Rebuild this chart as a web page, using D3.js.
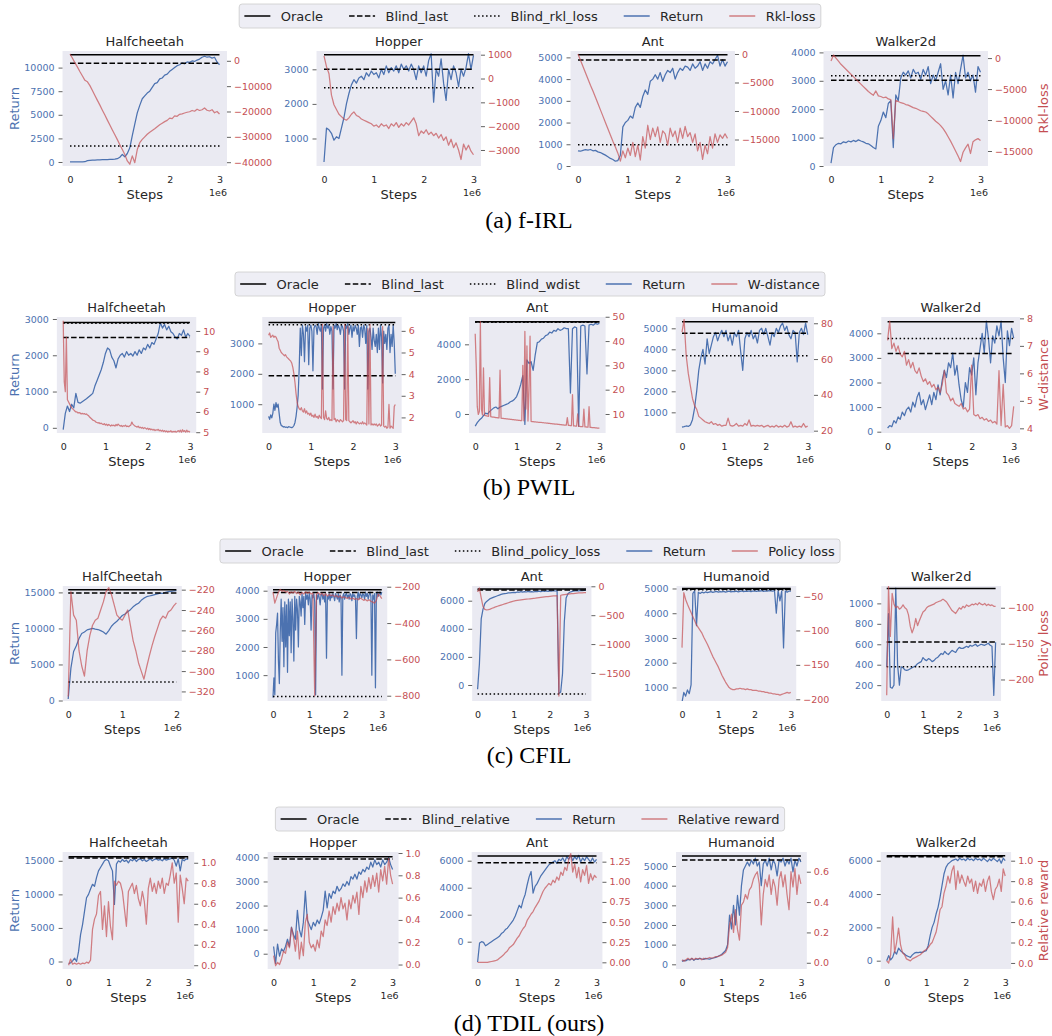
<!DOCTYPE html>
<html>
<head>
<meta charset="utf-8">
<script src="https://cdnjs.cloudflare.com/ajax/libs/d3/7.8.5/d3.min.js"></script>
<style>
  body { margin: 0; background: #fff; }
  svg { display: block; }
</style>
</head>
<body>
<svg id="fig" width="1052" height="1036"></svg>
<script>
// ---- labels ----
const firlEnvs = ['Halfcheetah', 'Hopper', 'Ant', 'Walker2d'];
const pwilEnvs = ['Halfcheetah', 'Hopper', 'Ant', 'Humanoid', 'Walker2d'];
const cfilEnvs = ['HalfCheetah', 'Hopper', 'Ant', 'Humanoid', 'Walker2d'];
const tdilEnvs = ['Halfcheetah', 'Hopper', 'Ant', 'Humanoid', 'Walker2d'];

const firlLegend = ['Oracle', 'Blind_last', 'Blind_rkl_loss', 'Return', 'Rkl-loss'];
const pwilLegend = ['Oracle', 'Blind_last', 'Blind_wdist', 'Return', 'W-distance'];
const cfilLegend = ['Oracle', 'Blind_last', 'Blind_policy_loss', 'Return', 'Policy loss'];
const tdilLegend = ['Oracle', 'Blind_relative', 'Return', 'Relative reward'];
const legendKinds4 = ['oracle', 'blind', 'blindLoss', 'return', 'loss'];
const legendKinds3 = ['oracle', 'blind', 'return', 'loss'];

const captions = ['(a) f-IRL', '(b) PWIL', '(c) CFIL', '(d) TDIL (ours)'];

// ---- baselines: [oracle, blind, blindLoss] in return units ----
const firlBaselines = [[11366, 10466, 1700], [3422, 3000, 2465], [5124, 4876, 975], [3880, 3020, 3175]];
const pwilBaselines = [[2906, 2487, 2880], [3690, 1934, 3612], [5299, 5290, 5264], [5317, 4762, 3695], [4470, 3180, 3790]];
const cfilBaselines = [[15375, 14900, 2560], [4035, 3940, 240], [6833, 6760, -640], [5000, 4970, 4950], [1146, 623, 380]];
const tdilBaselines = [[15596, 15400], [4025, 3930], [6350, 5850], [5508, 5305], [6300, 6240]];

// ---- series (evenly spaced over the step range, in 1e6 steps) ----
const firlHalfcheetahReturn = [0, 10, 5, 15, 10, 20, 30, 150, 180, 200,
  210, 220, 230, 240, 250, 260, 270, 280, 300, 350,
  500, 800, 550, 900, 1500, 2800, 4000, 5200, 6000, 6700,
  7000, 7300, 7500, 7900, 8300, 8400, 8800, 8900, 9200, 9300,
  9600, 9800, 10000, 10200, 10300, 10500, 10400, 10600, 10550, 10700,
  10650, 10800, 10900, 11100, 11200, 11100, 11150, 11000, 11100, 10600,
  10300];
const firlHalfcheetahLoss = [2700, 1000, -800, -2500, -4300, -6000, -7700, -8300, -9800, -11700,
  -13700, -15600, -17500, -19500, -21400, -23400, -25300, -27300, -29200, -31100,
  -33100, -35000, -37000, -39500, -40800, -37500, -40200, -35000, -32300, -31000,
  -30000, -29000, -28200, -27500, -26800, -26000, -25200, -24600, -24000, -23500,
  -22600, -22800, -21700, -21900, -21100, -20900, -20600, -20300, -20100, -19600,
  -19900, -19100, -19600, -19300, -18600, -19500, -19800, -19300, -20500, -20000,
  -21000];
const firlHopperReturn = [320, 1300, 1250, 1150, 950, 1050, 1000, 1300, 1600, 2000,
  2300, 2550, 2700, 2600, 2750, 2800, 2700, 2900, 2800, 2950,
  2850, 2900, 2750, 3000, 2850, 3100, 2900, 3050, 2950, 3100,
  2900, 3150, 3000, 3100, 2950, 3150, 3000, 2700, 3100, 2900,
  3100, 2800, 3250, 3450, 2050, 3000, 2800, 3300, 2600, 2100,
  3000, 2700, 3100, 2900, 2500, 3000, 2800, 3050, 3450, 3000,
  3400];
const firlHopperLoss = [950, 500, 200, -700, -1100, -1300, -1500, -1600, -1700, -1750,
  -1650, -1500, -1400, -1550, -1600, -1700, -1750, -1800, -1850, -1900,
  -2000, -1950, -2050, -1900, -2000, -1950, -2100, -1900, -2000, -1850,
  -2050, -1900, -2000, -1850, -1950, -1800, -1650, -1900, -2400, -2200,
  -2300, -2150, -2350, -2250, -2400, -2300, -2500, -2350, -2600, -2450,
  -2800, -2550, -2900, -2700, -3000, -3400, -2750, -3000, -2800, -3050,
  -3200];
const firlAntReturn = [700, 680, 720, 750, 730, 760, 700, 720, 650, 620,
  560, 500, 430, 350, 300, 220, 250, 500, 1800, 2000,
  2100, 2300, 2200, 2700, 2900, 2700, 3200, 3500, 3300, 3900,
  4000, 4200, 4000, 4300, 3900, 4200, 4400, 4300, 4500, 4000,
  4300, 4500, 4400, 4600, 4550, 4400, 4700, 4500, 4600, 4800,
  4400, 4700, 4500, 4800, 4700, 4900, 5100, 4600, 4900, 4600,
  4800];
const firlAntLoss = [0, -1100, -2200, -3300, -4400, -5500, -6500, -7600, -8700, -9800,
  -10900, -12000, -13100, -14200, -15300, -16300, -17400, -18800, -17000, -18200,
  -16500, -17800, -15500, -18000, -16000, -18600, -14500, -16500, -12500, -15000,
  -13000, -14500, -12800, -15500, -13500, -14000, -16000, -13000, -14500, -13500,
  -15500, -13000, -14800, -12700, -14500, -13800, -15500, -14000, -17000, -15500,
  -18500, -16000, -17500, -14500, -16500, -14000, -15500, -14200, -14800, -14000,
  -14800];
const firlWalkerReturn = [100, 650, 750, 800, 780, 850, 820, 880, 850, 900,
  860, 920, 880, 850, 800, 780, 720, 650, 600, 1400,
  1600, 1900, 1700, 2200, 2300, 650, 2500, 2300, 3100, 3300,
  3200, 3350, 3100, 3400, 3250, 3300, 3050, 3400, 3200, 3500,
  2900, 3200, 3000, 3300, 3600, 2700, 3000, 2500, 3200, 2400,
  3300, 2900, 3400, 3900, 3100, 3300, 3000, 3200, 2600, 3500,
  3300];
const firlWalkerLoss = [-470, 500, 0, -500, -1000, -1400, -1800, -2200, -2600, -3000,
  -3400, -3800, -4200, -4600, -5000, -5400, -5700, -6000, -5300, -6100,
  -6200, -6400, -6300, -6600, -6700, -13000, -6800, -7000, -7200, -7300,
  -7500, -7600, -7800, -8000, -8100, -8300, -8500, -8600, -8700, -9000,
  -9400, -9800, -10200, -10500, -10900, -11400, -12000, -12700, -13400, -14200,
  -15000, -15800, -16700, -15200, -14500, -13900, -15400, -13500, -13200, -13000,
  -13300];

const pwilHalfcheetahReturn = [-50, 400, 600, 450, 650, 550, 950, 700, 680, 720,
  760, 800, 850, 900, 950, 1150, 1300, 1450, 1600, 1800,
  2050, 2200, 2150, 1950, 1850, 1650, 1900, 2000, 2050, 1950,
  2100, 2000, 2050, 1980, 2100, 2000, 2150, 2050, 2200, 2150,
  2300, 2200, 2350, 2300, 2450, 2600, 2900, 2750, 2850, 2700,
  2800, 2650, 2600, 2500, 2450, 2600, 2550, 2700, 2500, 2600,
  2520];
const pwilHalfcheetahLoss = [10.5, 7.5, 7.0, 9.7, 6.6, 6.5, 6.4, 6.3, 6.2, 6.15,
  6.1, 6.05, 6.0, 6.0, 5.95, 5.97, 5.95, 5.9, 5.93, 5.9,
  5.92, 5.88, 5.9, 5.85, 5.82, 5.75, 5.7, 5.65, 5.6, 5.58,
  5.55, 5.5, 5.48, 5.45, 5.47, 5.42, 5.45, 5.4, 5.38, 5.42,
  5.35, 5.4, 5.33, 5.38, 5.35, 5.3, 5.36, 5.32, 5.35, 5.3,
  5.38, 5.32, 5.4, 5.35, 5.3, 5.33, 5.28, 5.32, 5.3, 5.35,
  5.28, 5.3, 5.27, 5.32, 5.35, 5.5, 5.4, 5.35, 5.3, 5.28,
  5.25, 5.3, 5.22, 5.25, 5.2, 5.24, 5.18, 5.22, 5.2, 5.15,
  5.2, 5.13, 5.18, 5.12, 5.15, 5.1, 5.14, 5.08, 5.12, 5.1,
  5.14, 5.07, 5.1, 5.05, 5.1, 5.03, 5.08, 5.02, 5.06, 5.0,
  5.05, 5.02, 5.07, 5.0, 5.04, 5.01, 5.05, 5.0, 5.03, 5.08,
  5.02, 5.1, 5.0, 5.12, 5.03, 5.08, 5.0, 5.1, 5.02, 5.05,
  5.0];
const pwilHopperReturn = [600, 500, 650, 550, 700, 1000, 800, 1050, 900, 1000,
  700, 400, 300, 280, 250, 260, 240, 250, 230, 260,
  250, 240, 230, 250, 300, 400, 600, 900, 1300, 2200,
  3500, 2600, 3600, 3300, 2400, 3550, 3400, 3600, 2300, 3500,
  3600, 3400, 2100, 3500, 3600, 3550, 3300, 3650, 3500, 3400,
  3600, 1500, 3500, 3600, 3400, 3650, 3500, 3600, 3300, 3550,
  3400, 1500, 3600, 3500, 3650, 3450, 3600, 3500, 3300, 3600,
  3550, 3400, 1500, 3600, 3500, 3650, 3300, 3500, 3600, 3200,
  3550, 3400, 3600, 3500, 3300, 3600, 2900, 3500, 3550, 3200,
  3600, 3500, 3000, 3600, 1500, 3400, 3500, 3200, 2800, 3500,
  3100, 2900, 3300, 2700, 3500, 2800, 3600, 3200, 1700, 3400,
  3000, 3300, 2800, 3500, 3600, 2700, 3300, 2900, 3600, 3000,
  2000];
const pwilHopperLoss = [5.8, 5.9, 5.7, 5.75, 5.8, 5.7, 5.75, 5.72, 5.6, 5.5,
  5.2, 5.1, 5.0, 4.95, 4.9, 4.85, 4.9, 4.8, 4.75, 4.7,
  4.65, 4.6, 4.5, 4.3, 4.0, 3.6, 3.1, 2.7, 2.5, 2.4,
  2.35, 2.45, 2.3, 2.25, 2.4, 2.2, 2.3, 2.15, 2.2, 2.1,
  2.2, 2.05, 2.1, 2.0, 2.15, 2.0, 2.05, 1.95, 2.1, 2.0,
  1.95, 6.3, 2.0, 1.9, 2.3, 1.95, 1.9, 2.0, 1.85, 1.9,
  1.85, 6.2, 1.9, 1.95, 1.8, 1.9, 1.85, 1.8, 1.9, 1.85,
  1.8, 1.85, 6.3, 1.9, 1.85, 6.2, 1.85, 1.8, 1.75, 1.8,
  1.85, 1.75, 1.8, 1.7, 1.8, 1.75, 1.7, 1.75, 1.7, 1.8,
  1.7, 1.75, 1.7, 1.65, 6.1, 1.7, 6.3, 1.65, 1.7, 1.65,
  1.7, 1.65, 1.7, 1.6, 1.65, 1.7, 1.6, 1.65, 6.2, 1.6,
  1.55, 1.6, 1.5, 1.55, 2.6, 1.5, 1.6, 1.55, 1.5, 2.5,
  2.6];
const pwilAntReturn = [-700, -500, -350, -250, -100, 50, 0, 150, 250, 350,
  400, 300, 400, 450, 500, 550, 600, 700, 750, 850,
  1000, 1300, 1700, 2200, -600, 3100, 2900, 3000, 2500, 3400,
  4100, 4150, 4300, 4350, 4500, 4550, 4700, 4650, 4800, 4750,
  4900, 4800, 4850, 4950, 4900, 4900, 1200, 4900, 5000, 4950,
  -700, 5050, 5100, 5050, 2300, 5100, 5150, 5100, 5200, 5150,
  5200];
const pwilAntLoss = [43, 30, 13, 9.8, 11, 48, 12, 9.6, 29, 9.4,
  9.3, 9.2, 9.1, 9.0, 25, 8.9, 8.8, 8.7, 8.7, 8.6,
  8.5, 8.5, 8.4, 8.4, 28, 8.3, 8.2, 8.2, 8.1, 8.1,
  8.0, 8.0, 7.9, 7.9, 7.8, 7.8, 7.7, 7.7, 7.6, 7.6,
  7.5, 7.5, 7.4, 7.4, 7.3, 7.3, 30, 7.2, 44, 12,
  38, 7.1, 20, 42, 7.0, 6.9, 6.9, 6.8, 6.8, 6.7,
  6.7, 6.6, 6.6, 6.5, 6.5, 6.4, 6.4, 6.3, 6.3, 6.2,
  6.2, 6.1, 6.1, 6.0, 6.0, 5.9, 5.9, 5.8, 5.8, 5.8,
  5.7, 5.7, 5.6, 5.6, 5.5, 5.5, 5.4, 5.4, 5.4, 8.5,
  5.3, 5.3, 5.2, 5.2, 18, 5.1, 5.1, 5.0, 5.0, 10,
  4.9, 4.9, 4.8, 4.8, 4.8, 12, 4.7, 4.7, 4.6, 4.6,
  13, 4.5, 4.5, 4.4, 4.4, 4.4, 4.3, 4.3, 4.2, 4.2,
  4.2];
const pwilHumanoidReturn = [300, 320, 350, 330, 400, 650, 1200, 2000, 3000, 3600,
  4000, 3300, 4500, 3800, 4200, 4600, 4800, 4400, 4700, 4900,
  4600, 4900, 4400, 4700, 4200, 4800, 4600, 4900, 3900, 3000,
  4500, 4800, 4600, 4900, 4500, 4700, 4300, 4900, 5000, 4700,
  5000, 4600, 4200, 4800, 4600, 5000, 4800, 5100, 5250, 4900,
  5100, 4700, 4500, 4900, 4800, 3400, 4800, 5000, 4700, 5250,
  4700];
const pwilHumanoidLoss = [75, 82, 62, 52, 45, 38, 34, 32, 28, 27,
  26, 25, 24.5, 24, 25, 23.5, 24, 23, 23.5, 22.5,
  23, 23, 27, 23, 22.5, 23, 24, 22.5, 23, 22.5,
  24, 23, 26, 22.5, 23, 22.5, 23, 22.5, 23, 22,
  22.5, 23, 22, 22.5, 22, 23, 22, 22.5, 22, 23,
  22, 22.5, 25, 22, 22.5, 22, 22.5, 22, 24, 22,
  22.5];
const pwilWalkerReturn = [150, 250, 200, 450, 350, 600, 500, 800, 650, 900,
  1000, 800, 1200, 1000, 1400, 1600, 1100, 1300, 900, 1200,
  1500, 1100, 1600, 1300, 1900, 1500, 2100, 2500, 2200, 2800,
  2600, 3200, 2300, 2700, 1900, 1300, 1000, 2000, 1600, 2600,
  2300, 3000, 1500, 2800, 3400, 4000, 3200, 4500, 3800, 2800,
  3900, 3600, 4300, 3900, 4500, 3000, 2000, 4100, 3500, 4200,
  3800];
const pwilWalkerLoss = [7.2, 7.9, 6.9, 7.1, 6.8, 7.0, 6.7, 6.6, 6.8, 6.3,
  6.5, 6.2, 6.4, 6.1, 6.0, 6.2, 5.9, 5.7, 5.8, 5.6,
  5.7, 5.5, 5.6, 5.4, 5.5, 5.3, 5.6, 6.1, 5.3, 5.2,
  5.0, 5.1, 4.9, 4.85, 4.8, 4.9, 4.7, 4.75, 4.6, 4.7,
  6.3, 4.5, 4.45, 4.5, 4.35, 4.4, 4.3, 4.35, 4.25, 4.3,
  4.2, 4.25, 4.15, 6.1, 4.1, 5.6, 4.05, 4.1, 4.0, 4.1,
  4.8];

const cfilHalfcheetahReturn = [200, 4500, 6800, 7600, 8600, 9300, 9500, 9800, 9900, 10000,
  9900, 9850, 9700, 9500, 9200, 9700, 10300, 10700, 11000, 11400,
  11800, 12000, 12300, 12600, 13000, 13300, 13500, 13900, 14200, 14400,
  14500, 14600, 14700, 14800, 14900, 14850, 15000, 15100, 15150, 15200,
  15250];
const cfilHalfcheetahLoss = [-325, -222, -245, -250, -280, -295, -305, -280, -265, -255,
  -250, -248, -240, -232, -222, -218, -225, -235, -245, -248,
  -250, -245, -240, -255, -270, -280, -292, -300, -308, -296,
  -285, -275, -266, -258, -250, -246, -248, -242, -240, -236,
  -233];
const cfilHopperReturn = [200, 900, 300, 2500, 2800, 3200, 1500, 700, 2500, 3700,
  2200, 3400, 1300, 3600, 2000, 3500, 1100, 3700, 2400, 3600,
  1800, 3700, 3000, 1500, 3800, 2600, 3700, 3300, 2000, 3800,
  3600, 3100, 3900, 3400, 3800, 2800, 3900, 3700, 3850, 3500,
  3900, 3700, 2600, 3850, 3750, 3900, 3600, 300, 3850, 3700,
  3900, 3750, 3500, 3850, 3900, 3700, 3850, 3600, 3900, 1600,
  3800, 3700, 3900, 3650, 3850, 3750, 3900, 3800, 3650, 3900,
  3800, 3700, 3900, 3600, 3850, 3750, 1000, 3800, 3900, 3700,
  3850, 3900, 3750, 3850, 3700, 3900, 3850, 3650, 3900, 3800,
  3850, 3700, 2300, 3800, 3950, 3700, 3900, 3850, 3750, 3900,
  3850, 3700, 3950, 3800, 3900, 3700, 3850, 3950, 3800, 1000,
  3850, 3700, 3900, 550, 3900, 3950, 3800, 3900, 3950, 3850,
  3950];
const cfilHopperLoss = [-230, -290, -260, -230, -215, -225, -220, -230, -225, -240,
  -228, -235, -225, -238, -230, -245, -232, -240, -228, -236,
  -230, -240, -235, -800, -240, -232, -245, -235, -250, -238,
  -252, -242, -250, -245, -255, -248, -258, -250, -262, -255,
  -260, -265, -258, -268, -262, -270, -265, -272, -262, -268,
  -275, -270, -278, -272, -280, -285, -290, -275, -240, -250,
  -265];
const cfilAntReturn = [-300, 1500, 4700, 5400, 5800, 5950, 6050, 6150, 6200, 6250,
  6300, 6350, 6400, 6450, 6480, 6500, 6520, 6550, 6560, 6580,
  6600, 6580, 6620, 6600, 6640, 6610, 6650, 6620, 6660, 6630,
  6650, 6620, 6660, 6640, 6680, 6650, 6690, 6660, 6700, 6670,
  6700, 6680, 6710, 6690, 6720, -600, -500, 800, 4500, 6200,
  6500, 6600, 6650, 6680, 6700, 6720, 6700, 6730, 6720, 6740,
  6750];
const cfilAntLoss = [-100, -30, -200, -350, -400, -410, -405, -395, -380, -370,
  -355, -345, -335, -325, -315, -305, -295, -285, -275, -265,
  -255, -250, -245, -240, -236, -232, -228, -224, -220, -216,
  -212, -208, -205, -200, -196, -192, -188, -184, -180, -177,
  -174, -171, -168, -165, -162, -1900, -155, -150, -145, -140,
  -136, -132, -128, -125, -122, -119, -116, -114, -112, -110,
  -108];
const cfilHumanoidReturn = [400, 800, 650, 900, 750, 1100, 4800, 4900, 3500, 4850,
  4800, 4850, 4820, 4860, 4830, 4850, 4870, 4840, 4860, 4880,
  4850, 4870, 4860, 4880, 4850, 4870, 4890, 4860, 4880, 4870,
  4890, 4860, 4880, 4900, 4870, 4890, 4880, 4900, 4870, 4890,
  4900, 4880, 4900, 4890, 4910, 4880, 4900, 4890, 4910, 4900,
  4890, 4910, 4000, 4920, 4500, 4900, 2600, 4900, 4850, 4900,
  4880];
const cfilHumanoidLoss = [-125, -45, -55, -62, -68, -74, -80, -86, -92, -96,
  -100, -104, -110, -115, -120, -126, -132, -138, -143, -148,
  -153, -159, -165, -170, -175, -179, -183, -185, -186, -186,
  -185, -185, -184, -185, -185, -186, -185, -186, -186, -187,
  -187, -187, -188, -188, -189, -189, -190, -190, -191, -191,
  -192, -192, -193, -193, -194, -193, -192, -191, -190, -191,
  -190];
const cfilWalkerReturn = [380, 900, 180, 170, 200, 1150, 400, 200, 380, 370,
  350, 345, 350, 360, 370, 380, 390, 410, 420, 430,
  470, 450, 440, 460, 450, 430, 440, 460, 470, 490,
  510, 500, 530, 510, 500, 520, 540, 530, 520, 550,
  570, 560, 560, 570, 580, 570, 590, 580, 590, 600,
  580, 590, 600, 595, 590, 600, 610, 590, 580, 100,
  620];
const cfilWalkerLoss = [-222, -70, -140, -80, -95, -100, -98, -102, -100, -96,
  -100, -102, -110, -126, -135, -128, -115, -125, -118, -112,
  -106, -104, -100, -98, -97, -96, -95, -93, -92, -91,
  -90, -88, -90, -92, -96, -100, -104, -106, -108, -104,
  -100, -102, -98, -100, -96, -98, -97, -95, -96, -94,
  -96, -93, -95, -96, -94, -97, -95, -97, -96, -98,
  -98];

const tdilHalfcheetahReturn = [-300, -200, 100, 500, 0, 1500, 4000, 5500, 7500, 9500,
  10000, 10800, 11500, 11200, 12500, 13500, 14000, 14500, 15000, 15200,
  15000, 14200, 13500, 8500, 14500, 15000, 14800, 15200, 14900, 15100,
  14700, 15200, 15000, 15300, 14900, 15200, 15300, 15000, 15200, 14900,
  15100, 15300, 15000, 15200, 15300, 15100, 15200, 15000, 15300, 15100,
  15200, 15300, 15400, 15100, 14200, 15300, 13500, 15200, 15000, 15300,
  15200];
const tdilHalfcheetahLoss = [0.0, 0.06, 0.01, 0.02, 0.01, 0.02, 0.01, 0.02, 0.015, 0.03,
  0.02, 0.05, 0.35, 0.45, 0.5, 0.68, 0.72, 0.35, 0.58, 0.28,
  0.62, 0.38, 0.25, 0.82, 0.78, 0.82, 0.8, 0.72, 0.55, 0.38,
  0.72, 0.76, 0.8, 0.7, 0.78, 0.65, 0.58, 0.72, 0.62, 0.4,
  0.75, 0.85, 0.72, 0.8, 0.7, 0.82, 0.75, 0.85, 0.7, 0.8,
  0.78, 0.88, 1.0, 0.8, 0.9, 0.42, 0.88, 0.75, 0.6, 0.85,
  0.82];
const tdilHopperReturn = [300, -400, 400, -100, 200, 100, 300, 600, 300, 1100,
  800, 600, 1800, 1000, 700, 1300, 2600, 1400, 1200, 1000,
  1300, 1150, 1400, 1250, 1500, 1800, 2600, 1900, 2500, 2300,
  2600, 2500, 2800, 2600, 2700, 2900, 2800, 3000, 2850, 3200,
  3100, 3300, 3100, 3400, 3300, 3500, 3400, 3600, 3500, 3800,
  3600, 3900, 3700, 3800, 3600, 3900, 3700, 3800, 4000, 3700,
  3500];
const tdilHopperLoss = [0.08, -0.01, 0.02, 0.0, 0.05, 0.12, 0.1, 0.2, 0.15, 0.33,
  0.25, 0.12, 0.3, 0.05, 0.2, 0.08, 0.38, 0.45, 0.2, 0.15,
  0.18, 0.12, 0.22, 0.15, 0.3, 0.25, 0.4, 0.35, 0.48, 0.38,
  0.52, 0.45, 0.55, 0.48, 0.6, 0.5, 0.55, 0.4, 0.58, 0.5,
  0.62, 0.55, 0.65, 0.45, 0.7, 0.6, 0.75, 0.65, 0.78, 0.68,
  0.8, 0.7, 0.82, 0.65, 0.85, 0.75, 0.88, 0.72, 0.95, 0.8,
  0.72];
const tdilAntReturn = [-1500, -100, 0, -50, -300, -200, -100, 0, 100, 200,
  300, 400, 600, 700, 900, 1000, 1200, 1400, 1600, 1900,
  2300, 2700, 2500, 3100, 3500, 4200, 4800, 5200, 3600, 4100,
  4300, 4600, 4900, 5100, 5300, 5500, 5700, 5800, 5900, 6000,
  5800, 6100, 6000, 6200, 5900, 6300, 6100, 6400, 6000, 6300,
  6100, 6400, 5900, 6200, 6000, 6300, 6100, 5900, 6200, 5900,
  6100];
const tdilAntLoss = [0.0, 0.0, 0.0, 0.0, 0.0, 0.0, 0.005, 0.01, 0.015, 0.02,
  0.03, 0.05, 0.07, 0.09, 0.12, 0.14, 0.18, 0.2, 0.22, 0.26,
  0.3, 0.33, 0.38, 0.42, 0.45, 0.52, 0.56, 0.6, 0.63, 0.68,
  0.72, 0.76, 0.82, 0.88, 0.92, 0.95, 0.98, 0.96, 1.02, 0.99,
  1.06, 1.02, 1.12, 1.08, 1.18, 1.14, 1.28, 1.35, 1.12, 1.22,
  1.05, 1.18, 1.0, 1.15, 1.08, 1.2, 0.98, 1.1, 1.02, 1.08,
  1.05];
const tdilHumanoidReturn = [150, 200, 180, 250, 220, 300, 200, 280, 250, 300,
  270, 250, 300, 280, 260, 300, 320, 350, 400, 450,
  500, 600, 700, 1000, 2500, 1800, 3000, 2000, 3500, 2500,
  4000, 4800, 5000, 5200, 5000, 5300, 5100, 5400, 5000, 5200,
  4000, 5100, 5300, 5000, 5400, 4800, 5300, 5100, 4500, 5300,
  5200, 5400, 5000, 5300, 5100, 5400, 4700, 5300, 5000, 5400,
  5200];
const tdilHumanoidLoss = [0.02, 0.01, 0.02, 0.03, 0.02, 0.03, 0.02, 0.03, 0.025, 0.03,
  0.02, 0.03, 0.025, 0.03, 0.035, 0.03, 0.035, 0.04, 0.04, 0.045,
  0.05, 0.06, 0.07, 0.1, 0.25, 0.32, 0.2, 0.35, 0.22, 0.15,
  0.38, 0.4, 0.45, 0.42, 0.48, 0.5, 0.55, 0.58, 0.6, 0.52,
  0.25, 0.45, 0.55, 0.5, 0.58, 0.45, 0.55, 0.5, 0.38, 0.55,
  0.6, 0.5, 0.58, 0.45, 0.35, 0.6, 0.5, 0.62, 0.45, 0.58,
  0.52];
const tdilWalkerReturn = [0, 300, 50, 200, 550, 400, 750, 600, 500, 400,
  300, 250, 200, 350, 450, 500, 480, 520, 500, 550,
  600, 900, 1500, 2000, 2300, 2800, 3200, 3800, 4500, 5200,
  5600, 5800, 5900, 6000, 6050, 6100, 6000, 6150, 6050, 6100,
  6000, 6150, 6050, 6100, 6000, 6150, 6050, 6100, 6000, 6150,
  6050, 5950, 6100, 6000, 6150, 6050, 5950, 6100, 5850, 6150,
  6000];
const tdilWalkerLoss = [0.02, 0.0, 0.08, 0.45, 0.1, 0.2, 0.34, 0.18, 0.1, 0.08,
  0.04, 0.03, 0.02, 0.04, 0.05, 0.06, 0.07, 0.08, 0.1, 0.12,
  0.13, 0.15, 0.18, 0.2, 0.25, 0.3, 0.4, 0.52, 0.55, 0.68,
  0.75, 0.85, 0.78, 0.9, 0.95, 0.72, 0.9, 0.78, 0.86, 0.8,
  0.75, 0.85, 0.78, 0.82, 0.7, 0.8, 0.68, 0.78, 0.75, 0.82,
  0.7, 0.8, 0.85, 0.7, 0.62, 0.72, 0.75, 0.82, 0.7, 0.92,
  0.85];

// ---- layout ----
const FONT = 'DejaVu Sans, sans-serif';
const BLUE = '#4C72B0', RED = '#C44E52', INK = '#262626', PANEL_BG = '#EAEAF2';
const X3 = [0, 1, 2, 3];

const rows = [
  {
    top: 51, bottom: 166, legendTop: 4, lossLabel: 'Rkl-loss',
    legend: firlLegend, kinds: legendKinds4, caption: captions[0],
    panels: [
      {x0: 70, x1: 219.5, xmax: 3, left: [-424, 11758], lt: [0, 2500, 5000, 7500, 10000], right: [-41500, 3866], rt: [-40000, -30000, -20000, -10000, 0], ret: firlHalfcheetahReturn, loss: firlHalfcheetahLoss},
      {x0: 324, x1: 473.5, xmax: 3, left: [205, 3529], lt: [1000, 2000, 3000], right: [-3672, 1155], rt: [-3000, -2000, -1000, 0, 1000], ret: firlHopperReturn, loss: firlHopperLoss},
      {x0: 578, x1: 727.5, xmax: 3, left: [0, 5294], lt: [0, 1000, 2000, 3000, 4000, 5000], right: [-19649, 526], rt: [-15000, -10000, -5000, 0], ret: firlAntReturn, loss: firlAntLoss},
      {x0: 831, x1: 980.5, xmax: 3, left: [0, 4049], lt: [0, 1000, 2000, 3000, 4000], right: [-17419, 1145], rt: [-15000, -10000, -5000, 0], ret: firlWalkerReturn, loss: firlWalkerLoss}
    ].map((p, i) => Object.assign(p, {name: firlEnvs[i], base: firlBaselines[i], xt: X3, rf: 'd'}))
  },
  {
    top: 317, bottom: 433, legendTop: 272, lossLabel: 'W-distance',
    legend: pwilLegend, kinds: legendKinds4, caption: captions[1],
    panels: [
      {x0: 63.2, x1: 189.9, left: [-143, 3055], lt: [0, 1000, 2000, 3000], right: [4.96, 10.69], rt: [5, 6, 7, 8, 9, 10], ret: pwilHalfcheetahReturn, loss: pwilHalfcheetahLoss},
      {x0: 268.6, x1: 395.3, left: [53, 3868], lt: [1000, 2000, 3000], right: [1.28, 6.64], rt: [2, 3, 4, 5, 6], ret: pwilHopperReturn, loss: pwilHopperLoss},
      {x0: 475.2, x1: 599.4, left: [-1092, 5569], lt: [0, 2000, 4000], right: [2.18, 49.9], rt: [10, 20, 30, 40, 50], ret: pwilAntReturn, loss: pwilAntLoss},
      {x0: 682, x1: 807.7, left: [16, 5538], lt: [1000, 2000, 3000, 4000, 5000], right: [18.7, 83.5], rt: [20, 40, 60, 80], ret: pwilHumanoidReturn, loss: pwilHumanoidLoss},
      {x0: 887.6, x1: 1013.7, left: [-53, 4663], lt: [0, 1000, 2000, 3000, 4000], right: [3.83, 8.05], rt: [4, 5, 6, 7, 8], ret: pwilWalkerReturn, loss: pwilWalkerLoss}
    ].map((p, i) => Object.assign(p, {name: pwilEnvs[i], base: pwilBaselines[i], xmax: 3, xt: X3, rf: 'd'}))
  },
  {
    top: 586, bottom: 701, legendTop: 539, lossLabel: 'Policy loss',
    legend: cfilLegend, kinds: legendKinds4, caption: captions[2],
    panels: [
      {x0: 68.2, x1: 176.4, xmax: 2, xt: [0, 1, 2], left: [-69, 15888], lt: [0, 5000, 10000, 15000], right: [-329.4, -216.4], rt: [-320, -300, -280, -260, -240, -220], ret: cfilHalfcheetahReturn, loss: cfilHalfcheetahLoss},
      {x0: 273, x1: 381.8, xmax: 3, xt: X3, left: [81, 4167], lt: [1000, 2000, 3000, 4000], right: [-829, -196], rt: [-800, -600, -400, -200], ret: cfilHopperReturn, loss: cfilHopperLoss},
      {x0: 477.6, x1: 586, xmax: 3, xt: X3, left: [-1139, 7046], lt: [0, 2000, 4000, 6000], right: [-1985, 5], rt: [-1500, -1000, -500, 0], ret: cfilAntReturn, loss: cfilAntLoss},
      {x0: 682, x1: 790.8, xmax: 3, xt: X3, left: [453, 5100], lt: [1000, 2000, 3000, 4000, 5000], right: [-202.5, -35.5], rt: [-200, -150, -100, -50], ret: cfilHumanoidReturn, loss: cfilHumanoidLoss},
      {x0: 886.7, x1: 995.6, xmax: 3, xt: X3, left: [45, 1170], lt: [200, 400, 600, 800, 1000], right: [-230, -69.7], rt: [-200, -150, -100], ret: cfilWalkerReturn, loss: cfilWalkerLoss}
    ].map((p, i) => Object.assign(p, {name: cfilEnvs[i], base: cfilBaselines[i], rf: 'd'}))
  },
  {
    top: 852, bottom: 969, legendTop: 807, lossLabel: 'Relative reward',
    legend: tdilLegend, kinds: legendKinds3, caption: captions[3],
    panels: [
      {x0: 68.6, x1: 188.2, left: [-1117, 16311], lt: [0, 5000, 10000, 15000], right: [-0.037, 1.105], rt: [0, 0.2, 0.4, 0.6, 0.8, 1.0], rf: '.1f', ret: tdilHalfcheetahReturn, loss: tdilHalfcheetahLoss},
      {x0: 273.6, x1: 392.6, left: [-635, 4224], lt: [0, 1000, 2000, 3000, 4000], right: [-0.04, 1.009], rt: [0, 0.2, 0.4, 0.6, 0.8, 1.0], rf: '.1f', ret: tdilHopperReturn, loss: tdilHopperLoss},
      {x0: 477.6, x1: 596.5, left: [-2022, 6644], lt: [0, 2000, 4000, 6000], right: [-0.083, 1.37], rt: [0, 0.25, 0.5, 0.75, 1.0, 1.25], rf: '.2f', ret: tdilAntReturn, loss: tdilAntLoss},
      {x0: 682, x1: 800.9, left: [-239, 5712], lt: [0, 1000, 2000, 3000, 4000, 5000], right: [-0.041, 0.73], rt: [0, 0.2, 0.4, 0.6], rf: '.1f', ret: tdilHumanoidReturn, loss: tdilHumanoidLoss},
      {x0: 886.7, x1: 1005.2, left: [-498, 6522], lt: [0, 2000, 4000, 6000], right: [-0.059, 1.085], rt: [0, 0.2, 0.4, 0.6, 0.8, 1.0], rf: '.1f', ret: tdilWalkerReturn, loss: tdilWalkerLoss}
    ].map((p, i) => Object.assign(p, {name: tdilEnvs[i], base: tdilBaselines[i], xmax: 3, xt: X3}))
  }
];

const svg = d3.select('#fig');
const lineStyles = {
  oracle: {stroke: '#000', dash: null, width: 1.5, opacity: 1},
  blind: {stroke: '#000', dash: '5.5,2.4', width: 1.5, opacity: 1},
  blindLoss: {stroke: '#000', dash: '1.5,2.5', width: 1.5, opacity: 1},
  return: {stroke: BLUE, dash: null, width: 1.5, opacity: 1},
  loss: {stroke: RED, dash: null, width: 1.5, opacity: 0.7}
};

function series(values, xmax) {
  const n = values.length;
  return values.map((v, i) => [i / (n - 1) * xmax, v]);
}

function styleAxis(g, color) {
  g.attr('font-family', FONT).attr('font-size', 9.5);
  g.select('.domain').remove();
  g.selectAll('.tick line').attr('stroke', '#3a3a3a').attr('stroke-width', 0.8);
  g.selectAll('.tick text').attr('fill', color);
}

let clipCount = 0;
function drawPanel(row, p, first, last) {
  const m = (p.x1 - p.x0) * 0.05;
  const left = p.x0 - m, right = p.x1 + m;
  const x = d3.scaleLinear().domain([0, p.xmax]).range([p.x0, p.x1]);
  const yL = d3.scaleLinear().domain(p.left).range([row.bottom, row.top]);
  const yR = d3.scaleLinear().domain(p.right).range([row.bottom, row.top]);
  const g = svg.append('g');

  g.append('rect')
    .attr('x', left).attr('y', row.top)
    .attr('width', right - left).attr('height', row.bottom - row.top)
    .attr('fill', PANEL_BG);

  const id = 'clip' + (clipCount++);
  g.append('clipPath').attr('id', id).append('rect')
    .attr('x', left).attr('y', row.top)
    .attr('width', right - left).attr('height', row.bottom - row.top);
  const plot = g.append('g').attr('clip-path', `url(#${id})`);

  plot.append('path')
    .datum(series(p.ret, p.xmax))
    .attr('d', d3.line().x(d => x(d[0])).y(d => yL(d[1])))
    .attr('fill', 'none').attr('stroke', BLUE)
    .attr('stroke-width', 1.25).attr('stroke-linejoin', 'round');

  const baseKinds = ['oracle', 'blind', 'blindLoss'];
  p.base.forEach((v, i) => {
    const s = lineStyles[baseKinds[i]];
    plot.append('line')
      .attr('x1', x(0)).attr('x2', x(p.xmax))
      .attr('y1', yL(v)).attr('y2', yL(v))
      .attr('stroke', s.stroke).attr('stroke-width', s.width)
      .attr('stroke-dasharray', s.dash);
  });

  plot.append('path')
    .datum(series(p.loss, p.xmax))
    .attr('d', d3.line().x(d => x(d[0])).y(d => yR(d[1])))
    .attr('fill', 'none').attr('stroke', RED).attr('stroke-opacity', 0.7)
    .attr('stroke-width', 1.25).attr('stroke-linejoin', 'round');

  g.append('g')
    .attr('transform', `translate(${left},0)`)
    .call(d3.axisLeft(yL).tickValues(p.lt).tickFormat(d3.format('d')).tickSize(4).tickPadding(4))
    .call(styleAxis, BLUE);

  g.append('g')
    .attr('transform', `translate(${right},0)`)
    .call(d3.axisRight(yR).tickValues(p.rt).tickFormat(d3.format(p.rf)).tickSize(4).tickPadding(3))
    .call(styleAxis, RED);

  g.append('g')
    .attr('transform', `translate(0,${row.bottom})`)
    .call(d3.axisBottom(x).tickValues(p.xt).tickFormat(d3.format('d')).tickSize(0).tickPadding(10))
    .call(styleAxis, INK);

  const cx = (left + right) / 2;
  g.append('text').attr('x', cx).attr('y', row.top - 5.4)
    .attr('text-anchor', 'middle').attr('font-family', FONT).attr('font-size', 13)
    .attr('fill', INK).text(p.name);
  g.append('text').attr('x', cx).attr('y', row.bottom + 32.5)
    .attr('text-anchor', 'middle').attr('font-family', FONT).attr('font-size', 13)
    .attr('fill', INK).text('Steps');
  g.append('text').attr('x', right).attr('y', row.bottom + 29.5)
    .attr('text-anchor', 'end').attr('font-family', FONT).attr('font-size', 9.5)
    .attr('fill', INK).text('1e6');

  const cy = (row.top + row.bottom) / 2;
  if (first) {
    g.append('text').attr('transform', `translate(18.6,${cy}) rotate(-90)`)
      .attr('text-anchor', 'middle').attr('font-family', FONT).attr('font-size', 13)
      .attr('fill', BLUE).text('Return');
  }
  if (last) {
    g.append('text').attr('transform', `translate(1048,${cy}) rotate(-90)`)
      .attr('text-anchor', 'middle').attr('font-family', FONT).attr('font-size', 13)
      .attr('fill', RED).text(row.lossLabel);
  }
}

function drawLegend(row) {
  const g = svg.append('g');
  const box = g.append('rect');
  const handle = 26, gap = 10.4, spacing = 26, pad = 5.2;
  const texts = row.legend.map(label => g.append('text')
    .attr('font-family', FONT).attr('font-size', 13).attr('fill', INK).text(label));
  const widths = texts.map(t => t.node().getComputedTextLength());
  const total = 2 * pad + d3.sum(widths) + row.legend.length * (handle + gap) + (row.legend.length - 1) * spacing;
  let xPos = 530 - total / 2;
  box.attr('x', xPos).attr('y', row.legendTop).attr('width', total).attr('height', 24)
    .attr('rx', 3).attr('fill', PANEL_BG).attr('fill-opacity', 0.8)
    .attr('stroke', '#cccccc').attr('stroke-width', 0.8);
  xPos += pad;
  const ly = row.legendTop + 12;
  row.legend.forEach((label, i) => {
    const s = lineStyles[row.kinds[i]];
    g.append('line').attr('x1', xPos).attr('x2', xPos + handle).attr('y1', ly).attr('y2', ly)
      .attr('stroke', s.stroke).attr('stroke-opacity', s.opacity)
      .attr('stroke-width', s.width).attr('stroke-dasharray', s.dash);
    texts[i].attr('x', xPos + handle + gap).attr('y', row.legendTop + 16.6);
    xPos += handle + gap + widths[i] + spacing;
  });
}

rows.forEach(row => {
  row.panels.forEach((p, i) => drawPanel(row, p, i === 0, i === row.panels.length - 1));
  drawLegend(row);
  svg.append('text').attr('x', 529).attr('y', row.bottom + 62)
    .attr('text-anchor', 'middle').attr('font-family', 'Liberation Serif, Times New Roman, serif')
    .attr('font-size', 24).attr('fill', '#000').text(row.caption);
});
</script>
</body>
</html>
